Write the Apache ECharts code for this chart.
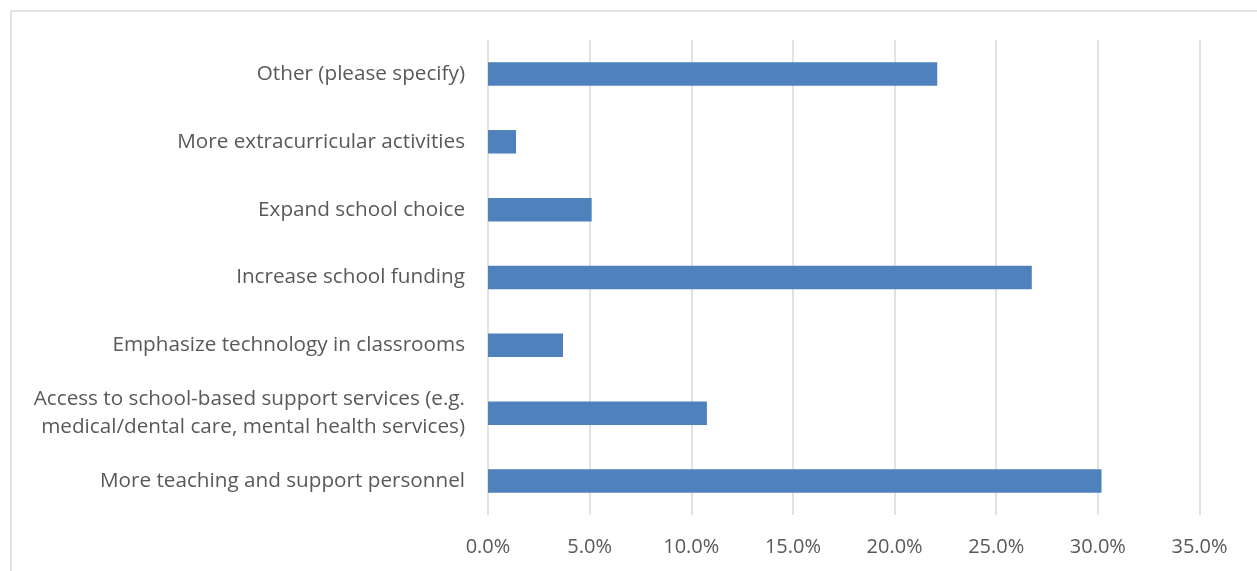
<!DOCTYPE html>
<html>
<head>
<meta charset="utf-8">
<script src="https://cdn.jsdelivr.net/npm/echarts@6/dist/echarts.min.js"></script>
<style>
  html, body { margin: 0; padding: 0; background: #fff; }
  #chart { width: 1257px; height: 571px; }
</style>
</head>
<body>
<div id="chart"></div>
<script>
// Survey responses, listed bottom-to-top as they appear on the category axis
const categories = [
  'More teaching and support personnel',
  'Access to school-based support services (e.g.\nmedical/dental care, mental health services)',
  'Emphasize technology in classrooms',
  'Increase school funding',
  'Expand school choice',
  'More extracurricular activities',
  'Other (please specify)'
];
const shares = [30.18, 10.77, 3.69, 26.75, 5.1, 1.38, 22.1];
const xTicks = { min: 0, max: 35, step: 5 };

const chart = echarts.init(document.getElementById('chart'), null, { renderer: 'canvas' });
const textColor = '#595959';
const fontFamily = '"Open Sans", "Noto Sans", sans-serif';

chart.setOption({
  animation: false,
  backgroundColor: '#ffffff',
  graphic: [{
    type: 'rect',
    shape: { x: 11, y: 11, width: 1400, height: 700 },
    style: { fill: 'none', stroke: '#d9d9d9', lineWidth: 1.5 },
    silent: true
  }],
  grid: { left: 488, right: 57.5, top: 40, bottom: 56, containLabel: false },
  xAxis: {
    type: 'value',
    min: xTicks.min,
    max: xTicks.max,
    interval: xTicks.step,
    axisLine: { show: false },
    axisTick: { show: false },
    splitLine: { show: true, lineStyle: { color: '#d9d9d9', width: 1.5 } },
    axisLabel: {
      color: textColor,
      fontFamily: fontFamily,
      fontSize: 20,
      margin: 22,
      formatter: v => v.toFixed(1) + '%'
    }
  },
  yAxis: {
    type: 'category',
    data: categories,
    axisLine: { show: false },
    axisTick: { show: false },
    splitLine: { show: false },
    axisLabel: {
      color: textColor,
      fontFamily: fontFamily,
      fontSize: 20.7,
      margin: 23,
      lineHeight: 28,
      align: 'right'
    }
  },
  series: [{
    type: 'bar',
    data: shares,
    barWidth: 23.5,
    itemStyle: { color: '#4f81bd' }
  }]
});
</script>
</body>
</html>
